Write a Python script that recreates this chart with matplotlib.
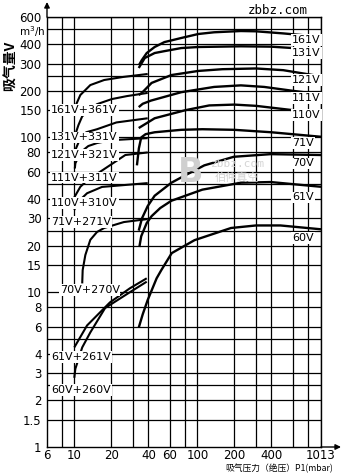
import numpy as np
import matplotlib.pyplot as plt

plt.rcParams['font.family'] = ['Liberation Sans Narrow', 'DejaVu Sans']

# ---------------- Datos: presión P1 (mbar) / caudal V (m3/h) ----------------
# bombas simples
p_161v = [33.6, 35.4, 38.8, 45, 54, 74, 102, 137, 226, 300, 500, 1013]
v_161v = [294, 316, 351, 384, 413, 439, 466, 478, 487, 485, 470, 447]
p_131v = [33.4, 37.4, 45, 54, 74, 102, 226, 395, 600, 1013]
v_131v = [281, 326, 351, 361, 378, 384, 388, 386, 378, 362]
p_121v = [33.4, 35.4, 42.5, 61.6, 102, 160, 300, 500, 1013]
v_121v = [188, 194, 225, 253, 269, 276, 279, 272, 248]
p_111v = [33.4, 36, 42, 74, 137, 226, 350, 600, 1013]
v_111v = [157, 165, 173, 196, 212, 217, 212, 200, 190]
p_110v = [33.4, 45, 80, 125, 200, 300, 600, 1013]
v_110v = [115, 133, 150, 161, 163, 160, 150, 140]
p_71v = [32.3, 33.5, 35, 38, 45, 74, 110, 200, 400, 1013]
v_71v = [66, 85, 100, 105, 108, 112, 113, 112, 108, 101]
p_70v = [33.4, 35.5, 39.5, 45, 61.6, 80, 114, 198, 395, 1013]
v_70v = [25, 30, 36, 42, 51, 57, 66, 75, 78, 77]
p_61v = [33.8, 35, 38.8, 42.5, 50, 61.6, 110, 226, 395, 1013]
v_61v = [19.6, 23, 28, 31, 35, 39, 46, 51, 51.5, 48]
p_60v = [33.4, 36, 39.5, 46.7, 51, 62, 95, 188, 300, 474, 1013]
v_60v = [5.9, 7.2, 8.9, 12.3, 13.9, 17.9, 21.7, 26, 27, 27, 25.5]

# combinaciones con soplante roots
p_161v_361v = [10.2, 11.2, 13.5, 17.5, 25, 39.5]
v_161v_361v = [159, 188, 218, 235, 246, 257]
p_131v_331v = [10, 10.8, 11.6, 15.3, 20.2, 26.8, 39.5]
v_131v_331v = [100, 120, 137, 164, 177, 185, 194]
p_121v_321v = [10.2, 11.2, 12.5, 15.3, 22, 39.5]
v_121v_321v = [83, 99, 108, 113, 125, 133]
p_111v_311v = [10.1, 10.2, 11.2, 13, 15.3, 20, 39.5]
v_111v_311v = [63, 68, 80, 88, 92, 96, 99]
p_110v_310v = [10, 11.2, 12.8, 17, 26, 39.5]
v_110v_310v = [41, 48, 53, 61.5, 77, 80]
p_71v_271v = [10, 10.6, 12.7, 16.8, 39.5]
v_71v_271v = [34, 38, 43.6, 47.9, 50.7]
p_70v_270v = [11.6, 11.7, 12.3, 13.5, 15.3, 17.5, 25.3, 39.5]
v_70v_270v = [11.4, 13.9, 17.4, 21.8, 24.5, 26, 28.4, 29.7]
p_61v_261v = [10, 12.7, 19.5, 28.3, 38.8]
v_61v_261v = [4.4, 6.1, 8.6, 10.6, 12.3]
p_60v_260v = [10, 10.2, 11.6, 13.5, 17.8, 28.3, 38.8]
v_60v_260v = [2.8, 3.2, 4.4, 5.5, 7.9, 10, 11.7]

single_names = ["161V", "131V", "121V", "111V", "110V", "71V", "70V", "61V", "60V"]
single_p = [p_161v, p_131v, p_121v, p_111v, p_110v, p_71v, p_70v, p_61v, p_60v]
single_v = [v_161v, v_131v, v_121v, v_111v, v_110v, v_71v, v_70v, v_61v, v_60v]
single_lbl_v = [426, 351, 235, 180, 140, 92, 68, 41, 22.4]

combo_names = ["161V+361V", "131V+331V", "121V+321V", "111V+311V", "110V+310V",
               "71V+271V", "70V+270V", "61V+261V", "60V+260V"]
combo_p = [p_161v_361v, p_131v_331v, p_121v_321v, p_111v_311v, p_110v_310v,
           p_71v_271v, p_70v_270v, p_61v_261v, p_60v_260v]
combo_v = [v_161v_361v, v_131v_331v, v_121v_321v, v_111v_311v, v_110v_310v,
           v_71v_271v, v_70v_270v, v_61v_261v, v_60v_260v]
combo_lbl_v = [150, 100, 77, 55, 37.6, 28.4, 10.3, 3.8, 2.33]

x_grid = [8, 10, 20, 30, 40, 60, 80, 100, 200, 300, 400, 600, 800, 1013]
y_grid = [1.5, 2, 2.5, 3, 4, 5, 6, 8, 10, 15, 20, 25, 30, 40, 50, 60, 80,
          100, 150, 200, 250, 300, 400, 500, 600]
x_ticks = [6, 10, 20, 40, 60, 100, 200, 400, 1013]
y_ticks = [1, 1.5, 2, 3, 4, 6, 8, 10, 15, 20, 30, 40, 60, 80, 100, 150, 200,
           300, 400, 600]

# ---------------- Figura ----------------
W, H = 347, 474
fig = plt.figure(figsize=(W / 100, H / 100), dpi=100)
ax = fig.add_axes([47 / W, 27 / H, 274 / W, 430 / H])
ax.set_xscale("log")
ax.set_yscale("log")
ax.set_xlim(6, 1013)
ax.set_ylim(1, 600)

for xv in x_grid:
    ax.axvline(xv, color="black", lw=0.9, zorder=1)
for yv in y_grid:
    ax.axhline(yv, color="black", lw=0.9, zorder=1)
for s in ax.spines.values():
    s.set_linewidth(1.0)

ax.minorticks_off()
ax.set_xticks(x_ticks)
ax.set_xticklabels([str(t) for t in x_ticks])
ax.set_yticks(y_ticks)
ax.set_yticklabels([("%g" % t) for t in y_ticks])
ax.tick_params(length=0, labelsize=8.5, pad=4)
ax.tick_params(axis="x", pad=1.5)

# curvas
for p, v in zip(single_p, single_v):
    ax.plot(p, v, color="black", lw=1.7, zorder=3, solid_capstyle="butt")
for p, v in zip(combo_p, combo_v):
    ax.plot(p, v, color="black", lw=1.5, zorder=3, solid_capstyle="butt")

# etiquetas
box = dict(facecolor="white", edgecolor="none", pad=0.6)
for name, lv in zip(single_names, single_lbl_v):
    ax.text(590, lv, name, fontsize=8, ha="left", va="center", bbox=box, zorder=4)
for name, lv in zip(combo_names, combo_lbl_v):
    x0 = 7.6 if name == "70V+270V" else 6.5
    ax.text(x0, lv, name, fontsize=8, ha="left", va="center", bbox=box, zorder=4)

# flechas de los ejes
ax.annotate("", xy=(0, 1 + 15 / 430), xytext=(0, 1), xycoords="axes fraction",
            arrowprops=dict(arrowstyle="-|>", color="black", lw=1, mutation_scale=8,
                            shrinkA=0, shrinkB=0), annotation_clip=False)
ax.annotate("", xy=(1 + 20 / 274, 0), xytext=(1, 0), xycoords="axes fraction",
            arrowprops=dict(arrowstyle="-|>", color="black", lw=1, mutation_scale=8,
                            shrinkA=0, shrinkB=0), annotation_clip=False)

# títulos
fig.text(45 / W, 1 - 32 / H, r"m$^3$/h", fontsize=7.5, ha="right", va="center")
fig.text(11 / W, 1 - 66 / H, "吸气量V", rotation=90, fontsize=10, fontweight="bold",
         ha="center", va="center", family=["Noto Sans CJK SC", "DejaVu Sans"])
fig.text(333 / W, 1 - 468 / H, "吸气压力（绝压）P1(mbar)", fontsize=6.3,
         ha="right", va="center", family=["Noto Sans CJK SC", "DejaVu Sans"])
fig.text(278 / W, 1 - 10 / H, "zbbz.com", fontsize=9, ha="center", va="center",
         family="DejaVu Sans Mono")

# marca de agua
fig.text(191 / W, 1 - 172 / H, "B", fontsize=24, fontweight="bold", color="#cfcfcf",
         ha="center", va="center", zorder=0)
fig.text(238 / W, 1 - 164 / H, "zbbz.com", fontsize=8, color="#d4d4d4",
         ha="center", va="center", family="DejaVu Sans Mono")
fig.text(237 / W, 1 - 178 / H, "伯仲真空", fontsize=8, color="#d4d4d4",
         ha="center", va="center", family=["Noto Sans CJK SC", "DejaVu Sans"])

fig.savefig("out.png", dpi=100)
plt.close(fig)
